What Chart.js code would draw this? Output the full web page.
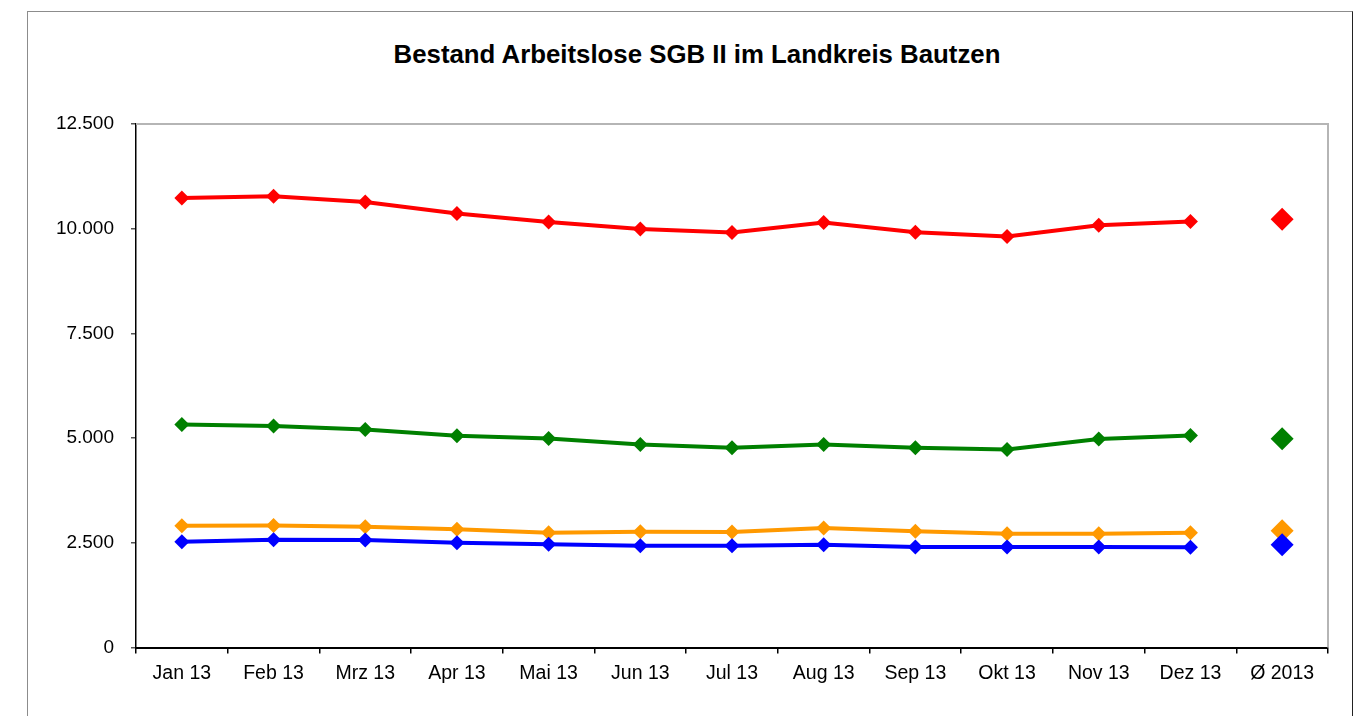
<!DOCTYPE html>
<html>
<head>
<meta charset="utf-8">
<script src="https://cdn.jsdelivr.net/npm/chart.js@4/dist/chart.umd.min.js"></script>
<style>
  html, body { margin: 0; padding: 0; background: #fff; overflow: hidden; }
  #frame {
    position: absolute; left: 27px; top: 11px; width: 1324px; height: 760px;
    border: 1px solid #8c8c8c; border-right-color: #222;
  }
  #title {
    position: absolute; left: 44px; top: 40px; width: 1306px;
    text-align: center; line-height: 30px;
    font: bold 25.8px 'Liberation Sans', Arial, sans-serif; color: #000;
  }
  #wrap { position: absolute; left: 0; top: 0; width: 1360px; height: 716px; }
</style>
</head>
<body>
<div id="frame"></div>
<div id="title">Bestand Arbeitslose SGB II im Landkreis Bautzen</div>
<div id="wrap"><canvas id="bestandChart" width="1360" height="716"></canvas></div>
<script>
const months = ["Jan 13", "Feb 13", "Mrz 13", "Apr 13", "Mai 13", "Jun 13",
  "Jul 13", "Aug 13", "Sep 13", "Okt 13", "Nov 13", "Dez 13"];
const avgLabel = "Ø 2013";

const redValues = [10735, 10776, 10640, 10363, 10162, 9995, 9909, 10148, 9917, 9814, 10084, 10172];
const greenValues = [5327, 5286, 5207, 5055, 4993, 4850, 4769, 4850, 4769, 4730, 4976, 5064];
const orangeValues = [2907, 2916, 2883, 2821, 2740, 2764, 2757, 2852, 2773, 2716, 2716, 2740];
const blueValues = [2525, 2573, 2566, 2501, 2463, 2430, 2430, 2454, 2399, 2399, 2399, 2391];

const redAvg = 10227;
const greenAvg = 4984;
const orangeAvg = 2788;
const blueAvg = 2454;

const yTicks = [0, 2500, 5000, 7500, 10000, 12500];

const fontFamily = "'Liberation Sans', Arial, sans-serif";

// blue first so it is drawn on top (Chart.js paints dataset 0 last)
const series = [
  { name: "blau", color: "#0000FF", values: blueValues, avg: blueAvg },
  { name: "orange", color: "#FF9900", values: orangeValues, avg: orangeAvg },
  { name: "gruen", color: "#008000", values: greenValues, avg: greenAvg },
  { name: "rot", color: "#FF0000", values: redValues, avg: redAvg }
];

const lineSets = series.map((s) => ({
  label: s.name,
  data: [...s.values, null],
  borderColor: s.color,
  backgroundColor: s.color,
  borderWidth: 4,
  pointStyle: "rectRot",
  pointRadius: 7.5,
  pointBorderWidth: 0,
  tension: 0,
  spanGaps: false
}));

const avgSets = series.map((s) => ({
  label: s.name + " Ø",
  data: [...months.map(() => null), s.avg],
  borderColor: s.color,
  backgroundColor: s.color,
  showLine: false,
  pointStyle: "rectRot",
  pointRadius: 11.5,
  pointBorderWidth: 0
}));

const plotBorder = {
  id: "plotBorder",
  beforeDatasetsDraw(chart) {
    const { ctx, chartArea } = chart;
    ctx.save();
    ctx.strokeStyle = "#b5b5b5";
    ctx.lineWidth = 2;
    ctx.beginPath();
    ctx.moveTo(chartArea.left, chartArea.top);
    ctx.lineTo(chartArea.right, chartArea.top);
    ctx.lineTo(chartArea.right, chartArea.bottom);
    ctx.stroke();
    ctx.restore();
  }
};

const ctx = document.getElementById("bestandChart").getContext("2d");

new Chart(ctx, {
  type: "line",
  data: {
    labels: [...months, avgLabel],
    datasets: [...avgSets, ...lineSets]
  },
  options: {
    responsive: false,
    animation: false,
    layout: { padding: { left: 0, right: 32, top: 124, bottom: 0 } },
    plugins: {
      legend: { display: false },
      tooltip: { enabled: false },
      title: { display: false }
    },
    scales: {
      x: {
        offset: true,
        afterFit: (scale) => { scale.height = 68.5; },
        grid: {
          offset: true,
          drawOnChartArea: false,
          drawTicks: true,
          tickLength: 6,
          tickColor: "#000",
          lineWidth: 1.5
        },
        border: { color: "#000", width: 2 },
        ticks: {
          color: "#000",
          padding: 8,
          maxRotation: 0,
          autoSkip: false,
          font: { family: fontFamily, size: 19.5 }
        }
      },
      y: {
        min: 0,
        max: 12500,
        afterFit: (scale) => { scale.width = 136; },
        afterBuildTicks: (scale) => {
          scale.ticks = yTicks.map((v) => ({ value: v }));
        },
        grid: {
          drawOnChartArea: false,
          drawTicks: true,
          tickLength: 5,
          tickColor: "#555",
          lineWidth: 1.5
        },
        border: { color: "#000", width: 1.5 },
        ticks: {
          color: "#000",
          padding: 17,
          font: { family: fontFamily, size: 19 },
          callback: (v) => v.toLocaleString("de-DE")
        }
      }
    }
  },
  plugins: [plotBorder]
});
</script>
</body>
</html>
